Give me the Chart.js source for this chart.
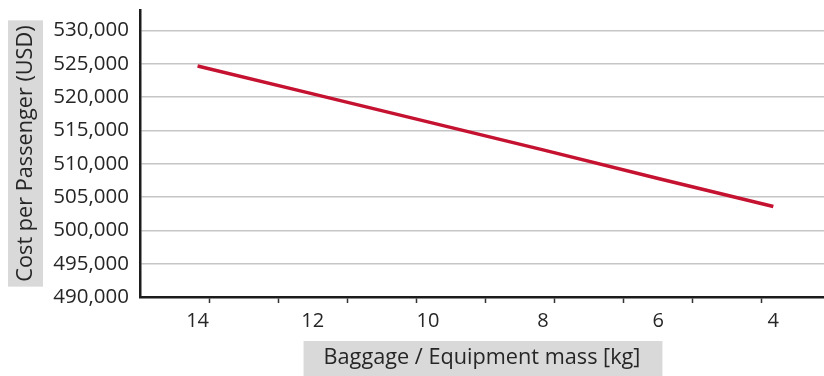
<!DOCTYPE html>
<html>
<head>
<meta charset="utf-8">
<script src="https://cdn.jsdelivr.net/npm/chart.js@4/dist/chart.umd.min.js"></script>
<style>
  html, body { margin: 0; padding: 0; background: #fff; overflow: hidden; }
  #wrap { width: 824px; height: 376px; position: relative; }
</style>
</head>
<body>
<div id="wrap"><canvas id="chart" width="824" height="376"></canvas></div>
<script>
// Cost per passenger against baggage / equipment mass
const massKg = [14, 12, 10, 8, 6, 4];
const costPerPassenger = [524700, 520500, 516300, 512100, 507800, 503600];

// Axis ticks
const xLabelValues = [14, 12, 10, 8, 6, 4];
const xMarkValues = [13.8, 12.6, 11.4, 10.2, 9, 7.8, 6.6, 5.4, 4.2];
const yTickValues = [490000, 495000, 500000, 505000, 510000, 515000, 520000, 525000, 530000];

const xTitle = 'Baggage / Equipment mass [kg]';
const yTitle = 'Cost per Passenger (USD)';

const FONT = '"Open Sans", "DejaVu Sans", sans-serif';
const TEXT = '#262626';
const AXIS = '#1c1c1c';
const BOX = '#d9d9d9';
const TITLE_SIZE = 21.7;
const TITLE_LH = 1.2;

const withThousands = v => String(v).replace(/\B(?=(\d{3})+(?!\d))/g, ',');

// Keep the plot area edge-to-edge: no extra room reserved for edge labels
const noEdgePadding = s => {
  s.paddingTop = 0; s.paddingBottom = 0; s.paddingLeft = 0; s.paddingRight = 0;
};

// Grey panels behind the two axis titles
const titlePanels = {
  id: 'titlePanels',
  beforeDraw(chart) {
    const { ctx } = chart;
    const xs = chart.scales.x, ys = chart.scales.y;
    const half = TITLE_SIZE * TITLE_LH / 2;
    ctx.save();
    ctx.font = `${TITLE_SIZE}px ${FONT}`;
    ctx.fillStyle = BOX;

    const yLen = ctx.measureText(yTitle).width;
    const yCx = ys.left + 12.5 + half;
    const yCy = (ys.top + ys.bottom) / 2;
    ctx.fillRect(yCx - 17.5, yCy - yLen / 2 - 5, 35, yLen + 10);

    const xLen = ctx.measureText(xTitle).width;
    const xCx = (xs.left + xs.right) / 2;
    const xCy = xs.bottom - 5.5 - half;
    ctx.fillRect(xCx - xLen / 2 - 20, xCy - 16.5, xLen + 42, chart.height - (xCy - 16.5));
    ctx.restore();
  }
};

new Chart(document.getElementById('chart'), {
  type: 'line',
  data: {
    datasets: [{
      data: massKg.map((m, i) => ({ x: m, y: costPerPassenger[i] })),
      borderColor: '#c51230',
      borderWidth: 3.5,
      pointRadius: 0,
      tension: 0,
      fill: false
    }]
  },
  options: {
    responsive: false,
    devicePixelRatio: 1,
    animation: false,
    layout: { padding: { top: 10, right: 0, bottom: 0, left: 0 } },
    plugins: { legend: { display: false }, tooltip: { enabled: false } },
    scales: {
      x: {
        type: 'linear',
        reverse: true,
        min: 3.12,
        max: 15,
        afterBuildTicks: s => {
          s.ticks = [...xLabelValues, ...xMarkValues]
            .sort((a, b) => b - a)
            .map(v => ({ value: v }));
        },
        afterFit: s => { s.height = 79; noEdgePadding(s); },
        ticks: {
          autoSkip: false,
          maxRotation: 0,
          padding: 6,
          color: TEXT,
          font: { family: FONT, size: 20 },
          callback: v => xLabelValues.includes(v) ? String(v) : ''
        },
        grid: {
          drawOnChartArea: false,
          drawTicks: true,
          tickLength: 6,
          tickWidth: 1.5,
          tickColor: ctx => (ctx.tick && xLabelValues.includes(ctx.tick.value)) ? 'rgba(0,0,0,0)' : '#333'
        },
        border: { display: true, color: AXIS, width: 2.5 },
        title: {
          display: true,
          text: xTitle,
          color: TEXT,
          font: { family: FONT, size: TITLE_SIZE, lineHeight: TITLE_LH },
          padding: { top: 0, bottom: 5.5 }
        }
      },
      y: {
        min: 490000,
        max: 533100,
        afterBuildTicks: s => { s.ticks = yTickValues.map(v => ({ value: v })); },
        afterFit: s => { s.width = 140; noEdgePadding(s); },
        ticks: {
          padding: 11,
          color: TEXT,
          font: { family: FONT, size: 20.5 },
          callback: v => withThousands(v)
        },
        grid: { color: '#c6c6c6', lineWidth: 1.5, drawTicks: false },
        border: { display: true, color: AXIS, width: 2.5 },
        title: {
          display: true,
          text: yTitle,
          color: TEXT,
          font: { family: FONT, size: TITLE_SIZE, lineHeight: TITLE_LH },
          padding: { top: 12.5, bottom: 0 }
        }
      }
    }
  },
  plugins: [titlePanels]
});
</script>
</body>
</html>
